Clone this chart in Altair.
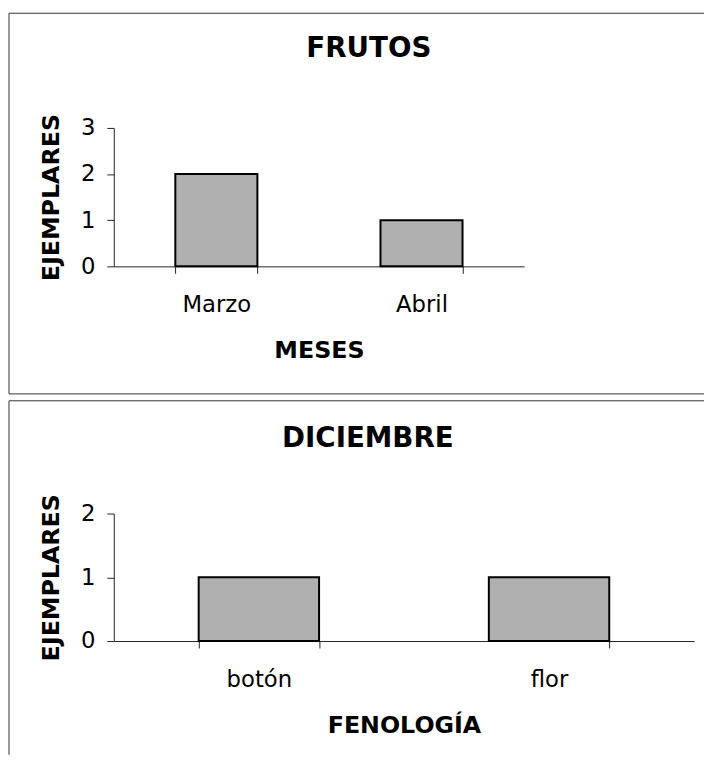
import altair as alt
import pandas as pd

# ---- data ----
title_top = "FRUTOS"
meses = ["Marzo", "Abril"]
frutos = [2, 1]
xtitle_top = "MESES"
yticks_top = [0, 1, 2, 3]

title_bottom = "DICIEMBRE"
fenologia = ["botón", "flor"]
diciembre = [1, 1]
xtitle_bottom = "FENOLOGÍA"
yticks_bottom = [0, 1, 2]

ytitle = "EJEMPLARES"

FONT = "DejaVu Sans"
BAR_FILL = "#b0b0b0"


def panel(cats, vals, xtitle, yticks, title, w, h, pin, title_x, title_y,
          top_y, bottom_y, left_end):
    df = pd.DataFrame({"cat": cats, "val": vals})
    ymax = max(yticks)
    bars = alt.Chart(df).mark_bar(
        fill=BAR_FILL, stroke="black", strokeWidth=2
    ).encode(
        x=alt.X("cat:N", sort=None, title=xtitle,
                scale=alt.Scale(paddingInner=pin, paddingOuter=pin / 2),
                axis=alt.Axis(labelAngle=0, tickBand="extent", tickSize=7,
                              labelPadding=21, titlePadding=22)),
        y=alt.Y("val:Q", title=ytitle,
                scale=alt.Scale(domain=[min(yticks), ymax], nice=False),
                axis=alt.Axis(tickCount=len(yticks) - 1, tickMinStep=1,
                              grid=False, tickSize=7, labelOverlap=False,
                              labelPadding=12, titlePadding=17, format="d")),
    )
    one = pd.DataFrame({"t": [title]})
    ttl = alt.Chart(one).mark_text(
        font=FONT, fontSize=28, fontWeight="bold", baseline="alphabetic",
        align="center", color="black"
    ).encode(x=alt.value(title_x), y=alt.value(title_y), text="t:N")
    base = alt.Chart(pd.DataFrame({"k": [0]}))
    rules = [
        base.mark_rule(color="#333333", strokeWidth=1).encode(
            x=alt.value(-106), x2=alt.value(597), y=alt.value(top_y)),
        base.mark_rule(color="#333333", strokeWidth=1).encode(
            x=alt.value(-106), y=alt.value(top_y), y2=alt.value(left_end)),
    ]
    if bottom_y is not None:
        rules.append(base.mark_rule(color="#333333", strokeWidth=1).encode(
            x=alt.value(-106), x2=alt.value(597), y=alt.value(bottom_y)))
    return alt.layer(bars, ttl, *rules).properties(width=w, height=h)


top = panel(meses, frutos, xtitle_top, yticks_top, title_top,
            415, 140, 0.6, 258, -72, -116, 269, 269)
bottom = panel(fenologia, diciembre, xtitle_bottom, yticks_bottom, title_bottom,
               587, 129, 0.585, 257, -67, -114, None, 244)

chart = alt.vconcat(top, bottom, spacing=5).properties(
    padding={"left": 0, "top": 0, "right": 0, "bottom": 0},
    background="white",
).configure_view(stroke=None).configure_axis(
    labelFont=FONT, labelFontSize=23, labelColor="black",
    titleFont=FONT, titleFontSize=24, titleFontWeight="bold", titleColor="black",
    domainColor="#222222", tickColor="#222222", domainWidth=1, tickWidth=1,
)

chart.save("out.html", embed_options={"renderer": "svg", "actions": False})
